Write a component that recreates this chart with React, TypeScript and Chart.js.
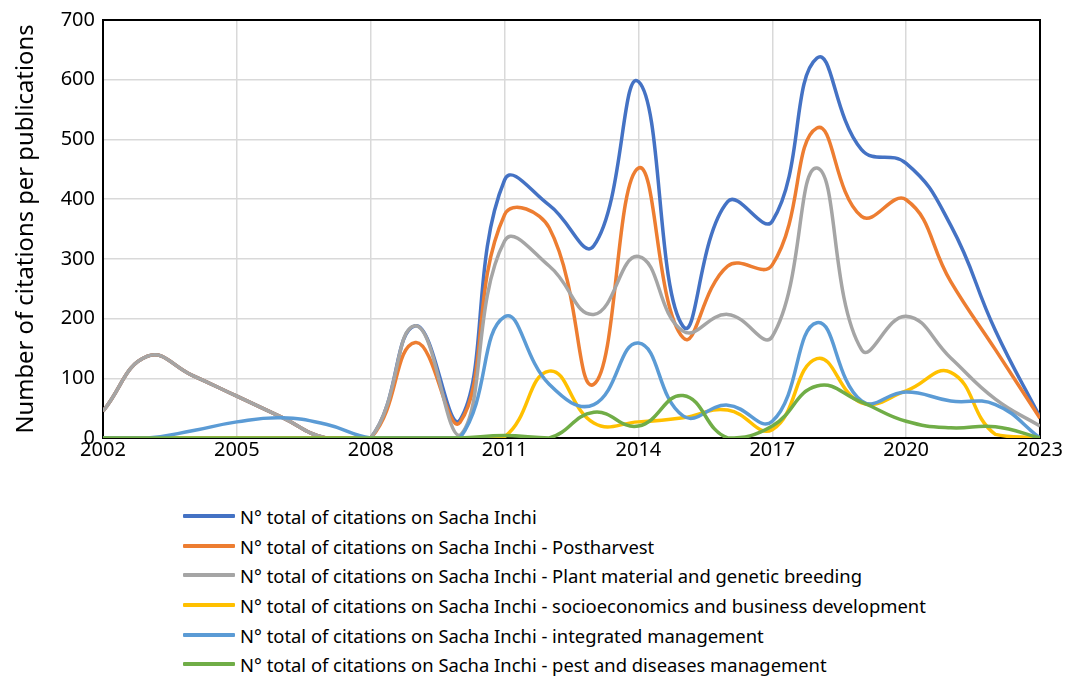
import React, { useEffect, useRef } from 'react';
import { Chart, registerables } from 'chart.js';

Chart.register(...registerables);

const years = [2002, 2003, 2004, 2005, 2006, 2007, 2008, 2009, 2010, 2011, 2012, 2013, 2014, 2015, 2016, 2017, 2018, 2019, 2020, 2021, 2022, 2023];
const total = [45, 137, 105, 70, 35, 0, 0, 188, 30, 432, 390, 322, 597, 187, 396, 363, 636, 483, 460, 356, 180, 35];
const postharvest = [45, 137, 105, 70, 35, 0, 0, 160, 26, 374, 352, 90, 452, 168, 288, 290, 519, 371, 399, 262, 148, 33];
const plantMaterial = [45, 137, 105, 70, 35, 0, 0, 188, 4, 330, 288, 207, 304, 179, 207, 170, 452, 148, 204, 134, 65, 20];
const socioeconomics = [0, 0, 0, 0, 0, 0, 0, 0, 0, 2, 112, 25, 27, 34, 47, 14, 133, 59, 79, 110, 6, 0];
const integrated = [0, 0, 12, 27, 34, 23, 0, 0, 0, 203, 90, 56, 159, 37, 55, 28, 193, 62, 77, 62, 56, 0];
const pest = [0, 0, 0, 0, 0, 0, 0, 0, 0, 4, 0, 43, 20, 71, 0, 20, 87, 60, 28, 17, 19, 0];

const seriesLabels = [
  'N° total of citations on Sacha Inchi',
  'N° total of citations on Sacha Inchi - Postharvest',
  'N° total of citations on Sacha Inchi - Plant material and genetic breeding',
  'N° total of citations on Sacha Inchi - socioeconomics and business development',
  'N° total of citations on Sacha Inchi - integrated management',
  'N° total of citations on Sacha Inchi - pest and diseases management',
];
const seriesValues = [total, postharvest, plantMaterial, socioeconomics, integrated, pest];
const seriesColors = ['#4472C4', '#ED7D31', '#A5A5A5', '#FFC000', '#5B9BD5', '#70AD47'];

const yTitle = 'Number of citations per publications';
const FONT = "'Noto Sans', 'DejaVu Sans', sans-serif";

const borderPlugin = {
  id: 'plotBorder',
  beforeDatasetsDraw(chart: any) {
    const { ctx, chartArea } = chart;
    const { left, top, right, bottom } = chartArea;
    ctx.save();
    ctx.strokeStyle = '#000';
    ctx.lineWidth = 2;
    ctx.strokeRect(left, top, right - left, bottom - top);
    ctx.restore();
  },
};

export default function App() {
  const canvasRef = useRef<HTMLCanvasElement | null>(null);

  useEffect(() => {
    document.body.style.margin = '0';
    const canvas = canvasRef.current;
    if (!canvas) return;
    const chart = new Chart(canvas, {
      type: 'line',
      data: {
        datasets: seriesValues.map((vals, i) => ({
          label: seriesLabels[i],
          data: vals.map((v, j) => ({ x: years[j], y: v })),
          borderColor: seriesColors[i],
          backgroundColor: seriesColors[i],
          borderWidth: 3.5,
          pointRadius: 0,
          tension: 0.45,
          fill: false,
          order: seriesValues.length - 1 - i,
        })),
      },
      options: {
        responsive: false,
        animation: false,
        devicePixelRatio: 1,
        layout: { padding: { top: 20, right: 25, left: 0, bottom: 0 } },
        plugins: {
          legend: { display: false },
          tooltip: { enabled: false },
        },
        scales: {
          x: {
            type: 'linear',
            min: 2002,
            max: 2023,
            ticks: {
              stepSize: 3,
              callback: (v: any) => String(v),
              font: { family: FONT, size: 20 },
              color: '#000',
              padding: 0,
              maxRotation: 0,
            },
            grid: { color: '#d9d9d9', lineWidth: 1.5, drawTicks: false },
            border: { color: '#000', width: 2 },
            afterFit: (scale: any) => {
              scale.height = 37;
            },
          },
          y: {
            min: 0,
            max: 700,
            ticks: {
              stepSize: 100,
              font: { family: FONT, size: 20 },
              color: '#000',
              padding: 8,
            },
            grid: { color: '#d9d9d9', lineWidth: 1.5, drawTicks: false },
            border: { color: '#000', width: 2 },
            title: {
              display: true,
              text: yTitle,
              font: { family: FONT, size: 23.8 },
              color: '#000',
              padding: { top: 12, bottom: 0 },
            },
            afterFit: (scale: any) => {
              scale.width = 103;
            },
          },
        },
      },
      plugins: [borderPlugin],
    } as any);
    return () => chart.destroy();
  }, []);

  const legendTops = [516, 546, 575, 605, 635, 664];

  return (
    <div style={{ position: 'relative', width: 1065, height: 676, background: '#fff' }}>
      <canvas ref={canvasRef} width={1065} height={475} style={{ position: 'absolute', left: 0, top: 0 }} />
      {seriesLabels.map((label, i) => (
        <div
          key={label}
          style={{
            position: 'absolute',
            left: 183,
            top: legendTops[i] - 14,
            height: 28,
            display: 'flex',
            alignItems: 'center',
            fontFamily: FONT,
            fontSize: 18.4,
            color: '#000',
            whiteSpace: 'nowrap',
          }}
        >
          <span style={{ display: 'inline-block', width: 52, height: 4, background: seriesColors[i], marginRight: 5, borderRadius: 1 }} />
          <span>{label}</span>
        </div>
      ))}
    </div>
  );
}
